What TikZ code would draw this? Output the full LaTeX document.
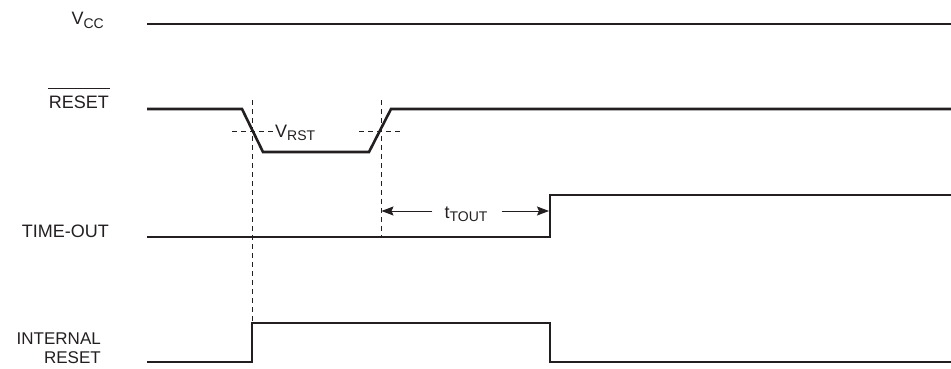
\documentclass[tikz,border=0pt]{standalone}
\usepackage{fontspec}
\setmainfont{Liberation Sans}
\usetikzlibrary{arrows.meta}
\definecolor{ink}{RGB}{35,31,32}
\newcommand{\lowsub}[1]{\raisebox{-3.5pt}{\fontsize{14}{14}\selectfont #1}}
\newcommand{\ovtext}[1]{\setbox0=\hbox{#1}\rlap{\hspace{-1pt}\rule[20.5pt]{\dimexpr\wd0+2pt\relax}{0.9pt}}\box0}
\begin{document}
\begin{tikzpicture}[x=1pt,y=-1pt,
  signal/.style={line width=2.6pt, draw=ink},
  guide/.style={line width=1pt, draw=ink, dash pattern=on 5pt off 4pt},
  dim/.style={line width=1pt, draw=ink, -{Stealth[length=12pt,width=9pt,inset=2pt]}},
  lbl/.style={inner sep=0pt, font=\fontsize{18}{21}\selectfont, text=ink},
]
\useasboundingbox (0,0) rectangle (951,369);

% labels
\node[lbl, anchor=base east] (vcc) at (104,25) {V\lowsub{CC}};
\node[lbl, anchor=base east] (rst) at (109,109) {\ovtext{RESET}};
\node[lbl, anchor=base east] (tout) at (109,237) {TIME-OUT};
\node[lbl, font=\fontsize{17}{19}\selectfont, align=right, anchor=base east] (ir) at (101,363) {INTERNAL\\RESET};
\node[lbl, anchor=base west] (vrst) at (275,137) {V\lowsub{RST}};
\node[lbl, anchor=base] (tt) at (466,218) {t\lowsub{TOUT}};

% signals
\draw[signal] (147,24) -- (951,24);
\draw[signal] (147,109) -- (242,109) -- (263,152) -- (369,152) -- (391,109) -- (951,109);
\draw[signal] (147,237) -- (550,237) -- (550,195) -- (951,195);
\draw[signal] (147,362) -- (252,362) -- (252,323) -- (550,323) -- (550,362) -- (951,362);

% guides
\draw[guide] (252,100) -- (252,323);
\draw[guide] (381,100) -- (381,236);
\draw[guide] (232,131) -- (273,131);
\draw[guide] (359,131) -- (402,131);

% dimension
\coordinate (tl) at (381.5,211);
\coordinate (tr) at (549,211);
\draw[dim] ([xshift=-12pt]tt.west |- tl) -- (tl);
\draw[dim] ([xshift=14pt]tt.east |- tr) -- (tr);
\end{tikzpicture}
\end{document}
